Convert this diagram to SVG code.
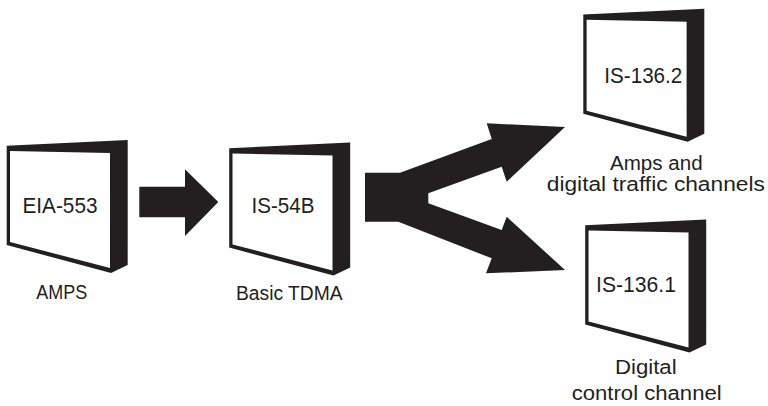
<svg xmlns="http://www.w3.org/2000/svg" xmlns:xlink="http://www.w3.org/1999/xlink" width="768" height="406" viewBox="0 0 768 406">
<style>
.dk{fill:#231f20}
.nt{font-family:"Liberation Sans",Arial,sans-serif;font-size:22px;fill:#231f20;text-anchor:middle}
.lb{font-family:"Liberation Sans",Arial,sans-serif;font-size:20px;fill:#231f20;text-anchor:middle}
</style>
<defs>
<g id="box">
<polygon class="dk" points="6.7,145.7 127.7,140 127.7,265 111,273 6.7,245"/>
<polygon fill="#fff" points="10,151 110,153 110,268 10,242"/>
</g>
</defs>
<rect width="768" height="406" fill="#fff"/>
<g id="connectors">
<polygon class="dk" points="139.3,186.7 185,186.7 185,169.3 218.3,202 185,236 185,217.3 139.3,217.3"/>
<polygon class="dk" points="365,172.7 400,172.7 491.7,139 486.7,123.3 565,127 506.7,181.7 501.7,166.7 428.3,193.3 428.3,203.3 501.7,230 506.7,216.7 565,270 486,273.3 491.7,258.3 398.3,221.7 365,221.7"/>
</g>
<g id="node-eia553">
<use xlink:href="#box"/>
<text class="nt" x="60" y="212.5" textLength="75" lengthAdjust="spacingAndGlyphs">EIA-553</text>
<text class="lb" x="61.7" y="299" textLength="51" lengthAdjust="spacingAndGlyphs">AMPS</text>
</g>
<g id="node-is54b">
<use xlink:href="#box" transform="translate(222.5,2.5)"/>
<text class="nt" x="283" y="212.7" textLength="63" lengthAdjust="spacingAndGlyphs">IS-54B</text>
<text class="lb" x="289.3" y="299.5" textLength="106.7" lengthAdjust="spacingAndGlyphs">Basic TDMA</text>
</g>
<g id="node-is1362">
<use xlink:href="#box" transform="translate(576.6,-131.3)"/>
<text class="nt" x="643.3" y="83" textLength="78" lengthAdjust="spacingAndGlyphs">IS-136.2</text>
<text class="lb" x="656.3" y="170" textLength="92.7" lengthAdjust="spacingAndGlyphs">Amps and</text>
<text class="lb" x="655.8" y="191" textLength="218" lengthAdjust="spacingAndGlyphs">digital traffic channels</text>
</g>
<g id="node-is1361">
<use xlink:href="#box" transform="translate(578.5,79.5)"/>
<text class="nt" x="636" y="291.7" textLength="80" lengthAdjust="spacingAndGlyphs">IS-136.1</text>
<text class="lb" x="645.8" y="374" textLength="61.7" lengthAdjust="spacingAndGlyphs">Digital</text>
<text class="lb" x="646.7" y="400" textLength="150" lengthAdjust="spacingAndGlyphs">control channel</text>
</g>
</svg>
